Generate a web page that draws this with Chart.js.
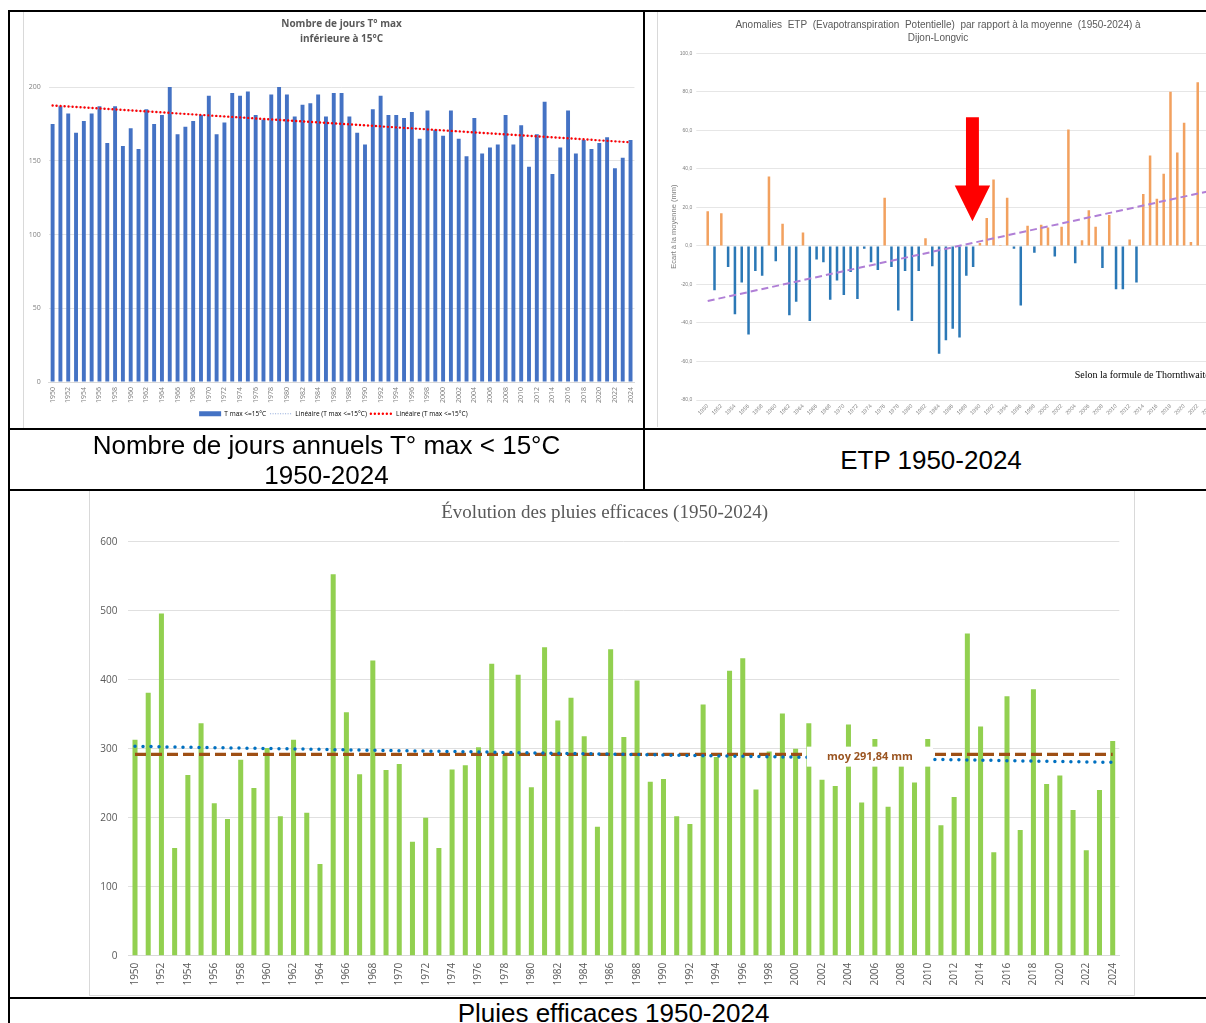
<!DOCTYPE html>
<html>
<head>
<meta charset="utf-8">
<title>Tmax, ETP, pluies efficaces 1950-2024</title>
<script src="https://cdn.jsdelivr.net/npm/chart.js@4.4.1/dist/chart.umd.min.js"></script>
<style>
html, body { margin: 0; padding: 0; background: #fff; overflow: hidden; }
body { position: relative; width: 1206px; height: 1023px; font-family: "Liberation Sans", Arial, sans-serif; }
.rule { position: absolute; background: #000; }
.frame { position: absolute; background: #fff; }
.frame canvas { display: block; }
.caption { position: absolute; text-align: center; font-size: 26px; line-height: 30px; color: #000; }
</style>
</head>
<body>

<div class="frame" id="tmax-frame" style="left:23px;top:12px;width:620px;height:416px;border-left:1px solid #d9d9d9;">
  <canvas id="tmax-chart" width="620" height="416"></canvas>
</div>
<div class="frame" id="etp-frame" style="left:657px;top:12px;width:561px;height:415px;border-left:1px solid #d9d9d9;">
  <canvas id="etp-chart" width="561" height="415"></canvas>
</div>
<div class="frame" id="pluies-frame" style="left:90px;top:491px;width:1044px;height:504px;outline:1px solid #d9d9d9;">
  <canvas id="pluies-chart" width="1044" height="504"></canvas>
</div>

<div class="rule" style="left:8px;top:10px;width:1212px;height:2px;"></div>
<div class="rule" style="left:8px;top:428px;width:1212px;height:2px;"></div>
<div class="rule" style="left:8px;top:489px;width:1212px;height:2px;"></div>
<div class="rule" style="left:8px;top:997px;width:1212px;height:2px;"></div>
<div class="rule" style="left:8px;top:10px;width:2px;height:1013px;"></div>
<div class="rule" style="left:643px;top:10px;width:2px;height:480px;"></div>

<div class="caption" style="left:10px;top:430px;width:633px;">Nombre de jours annuels T° max &lt; 15°C<br>1950-2024</div>
<div class="caption" style="left:645px;top:445px;width:572px;">ETP 1950-2024</div>
<div class="caption" style="left:10px;top:998px;width:1207px;">Pluies efficaces 1950-2024</div>

<script>
'use strict';

var years = [
    '1950','1951','1952','1953','1954','1955','1956','1957','1958','1959',
    '1960','1961','1962','1963','1964','1965','1966','1967','1968','1969',
    '1970','1971','1972','1973','1974','1975','1976','1977','1978','1979',
    '1980','1981','1982','1983','1984','1985','1986','1987','1988','1989',
    '1990','1991','1992','1993','1994','1995','1996','1997','1998','1999',
    '2000','2001','2002','2003','2004','2005','2006','2007','2008','2009',
    '2010','2011','2012','2013','2014','2015','2016','2017','2018','2019',
    '2020','2021','2022','2023','2024'
];

// jours avec T max <= 15°C
var tmaxDays = [
    175, 187, 182, 169, 177, 182, 187, 162, 187, 160,
    172, 158, 185, 175, 181, 200, 168, 173, 177, 181,
    194, 168, 176, 196, 194, 197, 181, 178, 195, 200,
    195, 180, 188, 189, 195, 180, 196, 196, 180, 169,
    161, 185, 194, 181, 181, 179, 183, 165, 184, 171,
    167, 184, 165, 153, 179, 155, 159, 161, 181, 161,
    174, 146, 168, 190, 141, 159, 184, 155, 164, 158,
    162, 166, 145, 152, 164
];
var tmaxTrendEnds = [187.5, 162.5];
var tmaxTicks = [0, 50, 100, 150, 200];

// anomalies ETP (mm), 2023 et 2024 hors du cadre de l'image
var etpAnomalies = [
    18, -23, 17, -11, -35.5, -19, -46, -13, -15.5, 36,
    -8, 11.5, -36, -29, 7, -39, -7, -8.5, -28, -18,
    -25.5, -13.5, -27.5, -1.5, -8.5, -12.5, 25, -11, -33.5, -13,
    -39, -13, 4, -10.5, -56, -49, -43, -47.5, -15.5, -11,
    1.5, 14.5, 34.5, 0.5, 25, -1.5, -31, 10.5, -3.5, 11,
    9.5, -5.5, 10, 60.5, -9, 3, 18.5, 10, -11.5, 16,
    -22.5, -22.5, 3.3, -19, 27, 47, 24.5, 37.5, 80, 48.5,
    64, 2, 85, null, null
];
var etpTrendEnds = [-28.6, 28.7];
var etpTicks = [-80, -60, -40, -20, 0, 20, 40, 60, 80, 100];

// pluies efficaces (mm)
var pluiesEfficaces = [
    313, 381, 496, 156, 262, 337, 221, 198, 284, 243,
    301, 202, 313, 207, 133, 553, 353, 263, 428, 269,
    278, 165, 200, 156, 270, 276, 302, 423, 291, 407,
    244, 447, 341, 374, 318, 187, 444, 317, 399, 252,
    256, 202, 191, 364, 288, 413, 431, 241, 296, 351,
    300, 337, 255, 246, 335, 222, 314, 216, 280, 251,
    314, 189, 230, 467, 332, 150, 376, 182, 386, 249,
    261, 211, 153, 240, 311
];
var pluiesMean = 291.84;
var pluiesTrendEnds = [303.4, 280.2];
var pluiesTicks = [0, 100, 200, 300, 400, 500, 600];

var endpoints = function(ends) {
    var d = years.map(function() { return null; });
    d[0] = ends[0];
    d[d.length - 1] = ends[1];
    return d;
};

var everyOtherYear = function(val, idx) {
    return idx % 2 === 0 ? years[idx] : '';
};

var fixedTicks = function(list) {
    return function(scale) {
        scale.ticks = list.map(function(v) { return {value: v}; });
    };
};

Chart.defaults.animation = false;
Chart.defaults.events = [];
Chart.defaults.plugins.tooltip.enabled = false;

// ---------- T max <= 15°C ----------
var ctxTmax = document.getElementById('tmax-chart').getContext('2d');
var tmaxChart = new Chart(ctxTmax, {
    type: 'bar',
    data: {
        labels: years,
        datasets: [
            {
                type: 'line',
                label: 'Linéaire (T max <=15°C) ',
                data: endpoints(tmaxTrendEnds),
                spanGaps: true,
                borderColor: '#8FA9D9',
                borderWidth: 0.8,
                borderDash: [1, 1.5],
                pointRadius: 0,
                order: 1
            },
            {
                type: 'line',
                label: 'Linéaire (T max <=15°C)',
                data: endpoints(tmaxTrendEnds),
                spanGaps: true,
                borderColor: '#FF0000',
                borderWidth: 2.4,
                borderDash: [0, 4],
                borderCapStyle: 'round',
                pointRadius: 0,
                order: 0
            },
            {
                label: 'T max <=15°C',
                data: tmaxDays,
                backgroundColor: '#4472C4',
                barPercentage: 0.5,
                categoryPercentage: 1,
                order: 2
            }
        ]
    },
    options: {
        responsive: false,
        layout: {padding: {left: 0, right: 1.3, top: 0, bottom: 1}},
        plugins: {
            title: {
                display: true,
                fullSize: false,
                text: ['Nombre de jours T° max', 'inférieure à 15°C'],
                color: '#595959',
                font: {family: '"Open Sans", sans-serif', size: 10, weight: 'bold', lineHeight: 1.5},
                padding: {top: 5, bottom: 40}
            },
            legend: {
                display: true,
                position: 'bottom',
                labels: {
                    usePointStyle: true,
                    pointStyleWidth: 22,
                    boxHeight: 5,
                    padding: 4,
                    color: '#595959',
                    font: {family: '"Open Sans", sans-serif', size: 6.5},
                    generateLabels: function(chart) {
                        return [
                            {text: 'T max <=15°C', fillStyle: '#4472C4', strokeStyle: '#4472C4', lineWidth: 0, pointStyle: 'rect', datasetIndex: 2},
                            {text: 'Linéaire (T max <=15°C)', fillStyle: 'rgba(0,0,0,0)', strokeStyle: '#8FA9D9', lineWidth: 1, lineDash: [1, 1.5], pointStyle: 'line', datasetIndex: 0},
                            {text: 'Linéaire (T max <=15°C)', fillStyle: 'rgba(0,0,0,0)', strokeStyle: '#FF0000', lineWidth: 2.4, lineDash: [0, 4], lineCap: 'round', pointStyle: 'line', datasetIndex: 1}
                        ];
                    }
                }
            }
        },
        scales: {
            x: {
                grid: {display: false, drawTicks: false},
                border: {display: true, color: '#D9D9D9'},
                ticks: {
                    autoSkip: false, minRotation: 90, maxRotation: 90, padding: 5,
                    color: '#7F7F7F', font: {family: '"Open Sans", sans-serif', size: 7},
                    callback: everyOtherYear
                },
                afterFit: function(scale) { scale.height = 24.5; }
            },
            y: {
                min: 0, max: 200,
                afterBuildTicks: fixedTicks(tmaxTicks),
                grid: {color: '#E4E4E4', drawTicks: false},
                border: {display: false},
                ticks: {padding: 8, color: '#7F7F7F', font: {family: '"Open Sans", sans-serif', size: 7}},
                afterFit: function(scale) { scale.width = 24.7; }
            }
        }
    }
});

// ---------- ETP ----------
var arrowMark = {index: 38.9, top: 66.8, neck: 31.3, tip: 12.8, shaft: 0.95, head: 2.6};

var etpNotes = {
    id: 'etpNotes',
    afterDatasetsDraw: function(chart) {
        var ctx = chart.ctx;
        var xs = chart.scales.x;
        var ys = chart.scales.y;
        var step = xs.getPixelForValue(1) - xs.getPixelForValue(0);
        var cx = xs.getPixelForValue(arrowMark.index);
        var yTop = ys.getPixelForValue(arrowMark.top);
        var yNeck = ys.getPixelForValue(arrowMark.neck);
        var yTip = ys.getPixelForValue(arrowMark.tip);
        var s = step * arrowMark.shaft;
        var h = step * arrowMark.head;
        ctx.save();
        ctx.fillStyle = '#FF0000';
        ctx.beginPath();
        ctx.moveTo(cx - s, yTop);
        ctx.lineTo(cx + s, yTop);
        ctx.lineTo(cx + s, yNeck);
        ctx.lineTo(cx + h, yNeck);
        ctx.lineTo(cx, yTip);
        ctx.lineTo(cx - h, yNeck);
        ctx.lineTo(cx - s, yNeck);
        ctx.closePath();
        ctx.fill();

        ctx.fillStyle = '#000';
        ctx.font = '10px "Liberation Serif", serif';
        ctx.textAlign = 'left';
        ctx.textBaseline = 'middle';
        ctx.fillText('Selon la formule de Thornthwaite', chart.chartArea.right - 140, ys.getPixelForValue(-67.3));
        ctx.restore();
    }
};

var ctxEtp = document.getElementById('etp-chart').getContext('2d');
var etpChart = new Chart(ctxEtp, {
    type: 'bar',
    data: {
        labels: years,
        datasets: [
            {
                type: 'line',
                label: 'Tendance',
                data: endpoints(etpTrendEnds),
                spanGaps: true,
                borderColor: '#B07FD6',
                borderWidth: 2,
                borderDash: [7, 4],
                pointRadius: 0,
                order: 0
            },
            {
                label: 'Anomalie ETP',
                data: etpAnomalies,
                backgroundColor: etpAnomalies.map(function(v) { return v !== null && v >= 0 ? '#F2A15F' : '#2B78B6'; }),
                barPercentage: 0.37,
                categoryPercentage: 1,
                order: 1
            }
        ]
    },
    options: {
        responsive: false,
        layout: {padding: {left: 0, right: 1, top: 0, bottom: 0}},
        plugins: {
            legend: {display: false},
            title: {
                display: true,
                text: ['Anomalies  ETP  (Evapotranspiration  Potentielle)  par rapport à la moyenne  (1950-2024) à', 'Dijon-Longvic'],
                color: '#595959',
                font: {family: '"Liberation Sans", Arial, sans-serif', size: 10, weight: 'normal', lineHeight: 1.3},
                padding: {top: 6.5, bottom: 8.8}
            }
        },
        scales: {
            x: {
                grid: {display: false, drawTicks: false},
                border: {display: false},
                ticks: {
                    autoSkip: false, minRotation: 45, maxRotation: 45, padding: 3,
                    color: '#7F7F7F', font: {family: '"Liberation Sans", Arial, sans-serif', size: 5.5},
                    callback: everyOtherYear
                },
                afterFit: function(scale) { scale.height = 27; }
            },
            y: {
                min: -80, max: 100,
                afterBuildTicks: fixedTicks(etpTicks),
                grid: {color: '#E6E6E6', drawTicks: true, tickLength: 8},
                border: {display: false},
                title: {
                    display: true,
                    text: 'Ecart à la moyenne (mm)',
                    color: '#7F7F7F',
                    font: {family: '"Liberation Sans", Arial, sans-serif', size: 7.5},
                    padding: {top: 11, bottom: 0}
                },
                ticks: {
                    padding: 4, color: '#7F7F7F',
                    font: {family: '"Liberation Sans", Arial, sans-serif', size: 5},
                    callback: function(v) { return v.toFixed(1).replace('.', ','); }
                },
                afterFit: function(scale) { scale.width = 46.3; }
            }
        }
    },
    plugins: [etpNotes]
});

// ---------- Pluies efficaces ----------
var meanBox = {from: 50.85, to: 60.4, top: 303, bottom: 274};

var meanLabel = {
    id: 'meanLabel',
    afterDatasetsDraw: function(chart) {
        var ctx = chart.ctx;
        var xs = chart.scales.x;
        var ys = chart.scales.y;
        var left = xs.getPixelForValue(meanBox.from);
        var right = xs.getPixelForValue(meanBox.to);
        var top = ys.getPixelForValue(meanBox.top);
        var bottom = ys.getPixelForValue(meanBox.bottom);
        ctx.save();
        ctx.fillStyle = '#FFFFFF';
        ctx.fillRect(left, top, right - left, bottom - top);
        ctx.fillStyle = '#9A5420';
        ctx.font = 'bold 11px "Open Sans", sans-serif';
        ctx.textAlign = 'center';
        ctx.textBaseline = 'middle';
        ctx.fillText('moy ' + pluiesMean.toFixed(2).replace('.', ',') + ' mm', (left + right) / 2, (top + bottom) / 2);
        ctx.restore();
    }
};

var ctxPluies = document.getElementById('pluies-chart').getContext('2d');
var pluiesChart = new Chart(ctxPluies, {
    type: 'bar',
    data: {
        labels: years,
        datasets: [
            {
                type: 'line',
                label: 'Tendance',
                data: endpoints(pluiesTrendEnds),
                spanGaps: true,
                borderColor: '#0070C0',
                borderWidth: 3.5,
                borderDash: [0, 8],
                borderCapStyle: 'round',
                pointRadius: 0,
                order: 0
            },
            {
                type: 'line',
                label: 'Moyenne',
                data: endpoints([pluiesMean, pluiesMean]),
                spanGaps: true,
                borderColor: '#9E4F14',
                borderWidth: 3.2,
                borderDash: [11, 5],
                pointRadius: 0,
                order: 1
            },
            {
                label: 'Pluies efficaces',
                data: pluiesEfficaces,
                backgroundColor: '#92D050',
                barPercentage: 0.38,
                categoryPercentage: 1,
                order: 2
            }
        ]
    },
    options: {
        responsive: false,
        layout: {padding: {left: 0, right: 14.7, top: 0, bottom: 0}},
        plugins: {
            legend: {display: false},
            title: {
                display: true,
                text: 'Évolution des pluies efficaces (1950-2024)',
                color: '#595959',
                font: {family: '"Liberation Serif", serif', size: 19, weight: 'normal', lineHeight: 1.2},
                padding: {top: 11, bottom: 16.9}
            }
        },
        scales: {
            x: {
                grid: {display: false, drawTicks: false},
                border: {display: true, color: '#D9D9D9'},
                ticks: {
                    autoSkip: false, minRotation: 90, maxRotation: 90, padding: 7,
                    color: '#595959', font: {family: '"Open Sans", sans-serif', size: 10},
                    callback: everyOtherYear
                },
                afterFit: function(scale) { scale.height = 39.3; }
            },
            y: {
                min: 0, max: 600,
                afterBuildTicks: fixedTicks(pluiesTicks),
                grid: {color: '#E0E0E0', drawTicks: false},
                border: {display: false},
                ticks: {padding: 11, color: '#595959', font: {family: '"Open Sans", sans-serif', size: 10}},
                afterFit: function(scale) { scale.width = 38.4; }
            }
        }
    },
    plugins: [meanLabel]
});
</script>
</body>
</html>
